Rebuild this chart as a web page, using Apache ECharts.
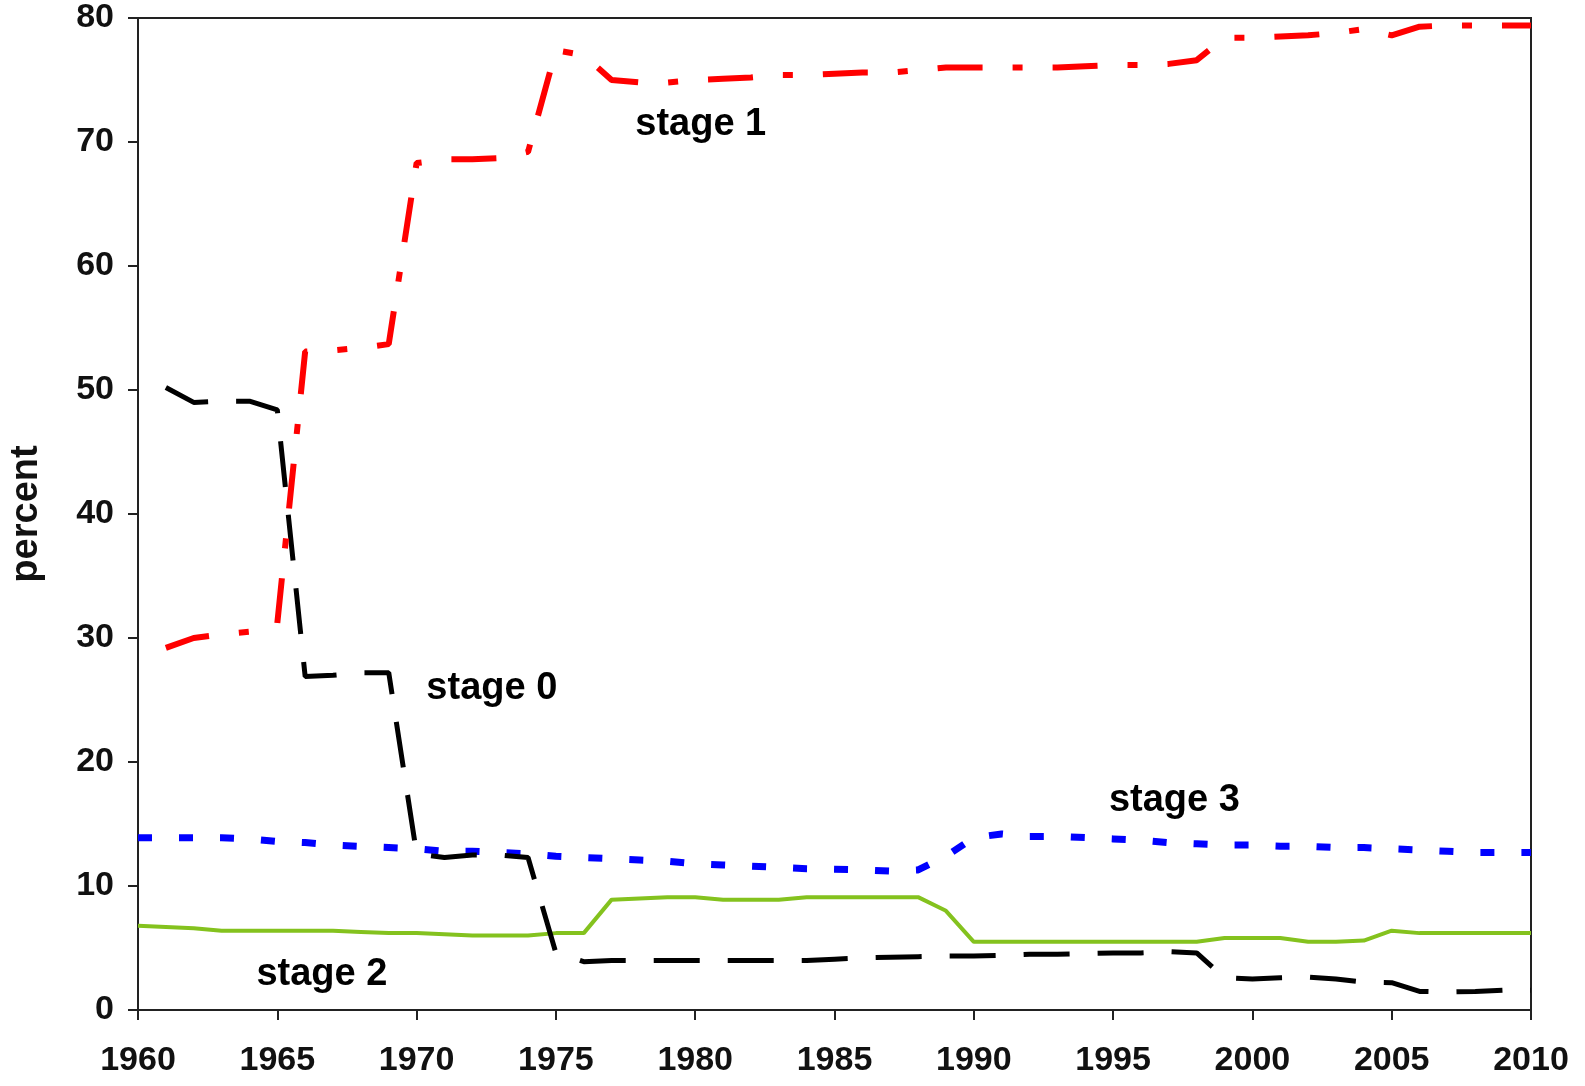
<!DOCTYPE html>
<html>
<head>
<meta charset="utf-8">
<script src="https://cdn.jsdelivr.net/npm/echarts@6/dist/echarts.min.js"></script>
<style>
html,body{margin:0;padding:0;background:#fff;}
#chart{width:1585px;height:1086px;}
</style>
</head>
<body>
<div id="chart"></div>
<script>
const years = [1960,1961,1962,1963,1964,1965,1966,1967,1968,1969,1970,1971,1972,1973,1974,1975,1976,1977,1978,1979,1980,1981,1982,1983,1984,1985,1986,1987,1988,1989,1990,1991,1992,1993,1994,1995,1996,1997,1998,1999,2000,2001,2002,2003,2004,2005,2006,2007,2008,2009,2010];

const stage0 = [null,50.2,49.0,49.1,49.1,48.4,26.9,27.0,27.2,27.2,12.6,12.3,12.5,12.5,12.3,4.6,3.9,4.0,4.0,4.0,4.0,4.0,4.0,4.0,4.0,4.1,4.2,4.25,4.3,4.35,4.35,4.4,4.5,4.5,4.55,4.6,4.6,4.7,4.6,2.6,2.5,2.6,2.65,2.5,2.25,2.2,1.5,1.45,1.5,1.6,1.6];

const stage1 = [null,29.2,30.0,30.3,30.5,31.2,53.1,53.2,53.4,53.7,68.3,68.6,68.6,68.7,69.2,77.4,77.0,75.0,74.8,74.8,75.0,75.1,75.2,75.4,75.4,75.5,75.6,75.6,75.8,76.0,76.0,76.0,76.0,76.0,76.1,76.2,76.2,76.3,76.6,78.4,78.4,78.5,78.6,78.8,79.1,78.6,79.3,79.4,79.4,79.4,79.4];

const stage2 = [6.8,6.7,6.6,6.4,6.4,6.4,6.4,6.4,6.3,6.2,6.2,6.1,6.0,6.0,6.0,6.2,6.2,8.9,9.0,9.1,9.1,8.9,8.9,8.9,9.1,9.1,9.1,9.1,9.1,8.0,5.5,5.5,5.5,5.5,5.5,5.5,5.5,5.5,5.5,5.8,5.8,5.8,5.5,5.5,5.6,6.4,6.2,6.2,6.2,6.2,6.2];

const stage3 = [13.9,13.9,13.9,13.9,13.8,13.6,13.5,13.3,13.2,13.1,13.0,12.8,12.8,12.7,12.6,12.4,12.3,12.2,12.1,12.0,11.8,11.7,11.6,11.5,11.4,11.35,11.3,11.2,11.3,12.4,13.9,14.2,14.0,14.0,13.9,13.8,13.7,13.5,13.4,13.3,13.3,13.2,13.2,13.1,13.1,13.0,12.9,12.8,12.7,12.7,12.7];

const labelNames = ['stage 1','stage 0','stage 3','stage 2'];
const labelX = [1980.2,1972.7,1997.2,1966.6];
const labelY = [71.4,25.9,16.9,2.9];

const xTicks = [1960,1965,1970,1975,1980,1985,1990,1995,2000,2005,2010];
const yTicks = [0,10,20,30,40,50,60,70,80];

const pair = arr => years.map((y,i) => [y, arr[i]]);
const FONT = '"Liberation Sans", Arial, sans-serif';

const chart = echarts.init(document.getElementById('chart'), null, {renderer:'canvas'});
chart.setOption({
  animation:false,
  backgroundColor:'#fff',
  grid:{left:138,right:54,top:18,bottom:76,containLabel:false,outerBoundsMode:'none',
        show:true,borderColor:'#222',borderWidth:2,backgroundColor:'transparent'},
  xAxis:{
    type:'value', min:xTicks[0], max:xTicks[xTicks.length-1], interval:5,
    axisLine:{show:true,onZero:false,lineStyle:{color:'#222',width:2}},
    axisTick:{show:true,length:10,inside:false,lineStyle:{color:'#222',width:2}},
    splitLine:{show:false},
    axisLabel:{fontFamily:FONT,fontWeight:'bold',fontSize:34,color:'#111',margin:34,formatter:v=>String(v)}
  },
  yAxis:{
    type:'value', min:yTicks[0], max:yTicks[yTicks.length-1], interval:10,
    name:'percent', nameLocation:'middle', nameGap:92, nameRotate:90,
    nameTextStyle:{fontFamily:FONT,fontWeight:'bold',fontSize:38,color:'#111'},
    axisLine:{show:true,onZero:false,lineStyle:{color:'#222',width:2}},
    axisTick:{show:true,length:10,inside:false,lineStyle:{color:'#222',width:2}},
    splitLine:{show:false},
    axisLabel:{fontFamily:FONT,fontWeight:'bold',fontSize:34,color:'#111',margin:24}
  },
  series:[
    {name:'stage 2',type:'line',data:pair(stage2),showSymbol:false,symbol:'none',
     lineStyle:{color:'#84C21E',width:4,type:'solid'}},
    {name:'stage 3',type:'line',data:pair(stage3),showSymbol:false,symbol:'none',
     lineStyle:{color:'#0000FF',width:7,type:[14,27],cap:'butt'}},
    {name:'stage 0',type:'line',data:pair(stage0),showSymbol:false,symbol:'none',
     lineStyle:{color:'#000000',width:5,type:[46,28],cap:'butt'}},
    {name:'stage 1',type:'line',data:pair(stage1),showSymbol:false,symbol:'none',
     lineStyle:{color:'#FF0000',width:6,type:[45,30,10,30],cap:'butt'}},
    {name:'labels',type:'scatter',silent:true,symbolSize:1,
     itemStyle:{color:'rgba(0,0,0,0)',opacity:1},
     data:labelNames.map((n,i)=>({value:[labelX[i],labelY[i]],name:n})),
     label:{show:true,position:'inside',formatter:p=>p.name,opacity:1,fontFamily:FONT,fontWeight:'bold',fontSize:38,color:'#000',textBorderWidth:0}}
  ]
});
</script>
</body>
</html>
